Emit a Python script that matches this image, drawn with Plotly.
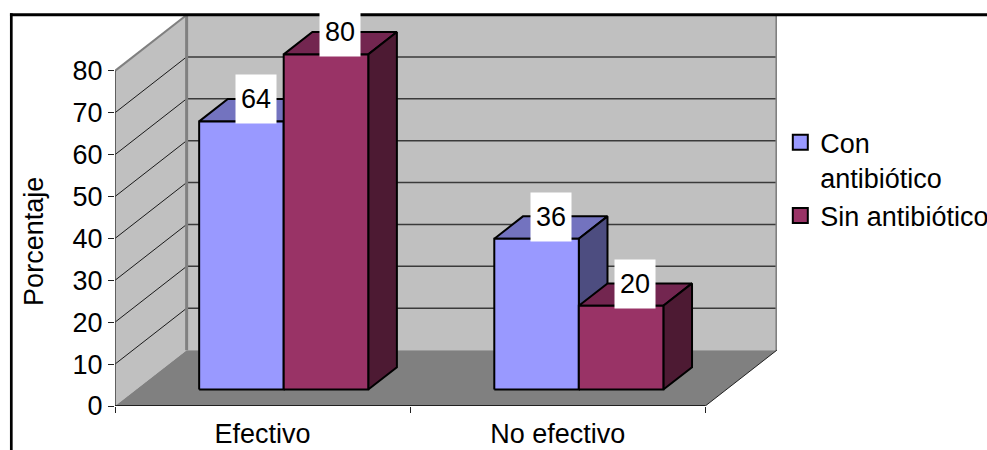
import plotly.graph_objects as go

categories = ["Efectivo", "No efectivo"]
series_names = ["Con<br>antibiótico", "Sin antibiótico"]
con_antibiotico = [64, 36]
sin_antibiotico = [80, 20]
y_ticks = [0, 10, 20, 30, 40, 50, 60, 70, 80]

front_colors = ["#9999FF", "#993366"]
top_colors = ["#7373BF", "#732650"]
side_colors = ["#4D4D80", "#4D1A33"]
FONT = "Liberation Sans, Arial, sans-serif"
FS = 27

# plot frame (pixels)
L, R, T, B = 115.0, 776.7, 14.5, 406.5
PX_PER_CAT = 295.0
PX_PER_UNIT = 4.2
DEPTH_X = 71.6 / PX_PER_CAT   # category units for whole depth
DEPTH_Y = 56.0 / PX_PER_UNIT  # value units for whole depth
x_max = (R - L) / PX_PER_CAT
y_max = (B - T) / PX_PER_UNIT

BAR_W = 84.5 / PX_PER_CAT
Z0, Z1 = 0.295, 0.695


def pr(x, y, z):
    return x + z * DEPTH_X, y + z * DEPTH_Y


def poly(points, fill, line_color="black", width=2.0):
    pts = [pr(*p) for p in points]
    pts.append(pts[0])
    return go.Scatter(
        x=[p[0] for p in pts], y=[p[1] for p in pts], mode="lines", fill="toself",
        fillcolor=fill, line=dict(color=line_color, width=width), hoverinfo="skip",
        showlegend=False,
    )


def seg(a, b, color, width):
    ax, ay = pr(*a)
    bx, by = pr(*b)
    return go.Scatter(x=[ax, bx], y=[ay, by], mode="lines", hoverinfo="skip", showlegend=False,
                      line=dict(color=color, width=width), cliponaxis=False)


fig = go.Figure()
top = y_ticks[-1]
right = len(categories)

# walls and floor
fig.add_trace(poly([(0, 0, 1), (right, 0, 1), (right, top, 1), (0, top, 1)], "#C0C0C0", "rgba(0,0,0,0)", 0))
fig.add_trace(poly([(0, 0, 0), (0, 0, 1), (0, top, 1), (0, top, 0)], "#C0C0C0", "rgba(0,0,0,0)", 0))
fig.add_trace(poly([(0, 0, 0), (0, 0, 1), (right, 0, 1), (right, 0, 0)], "#808080", "rgba(0,0,0,0)", 0))

for v in y_ticks[1:-1]:
    fig.add_trace(seg((0, v, 1), (right, v, 1), "#3A3A3A", 1.5))
    fig.add_trace(seg((0, v, 0), (0, v, 1), "#1A1A1A", 1))
fig.add_trace(seg((0, top, 0), (0, top, 1), "#808080", 2))
fig.add_trace(seg((0, 0, 1), (0, top, 1), "#808080", 3))
fig.add_trace(seg((right, 0, 1), (right, top, 1), "#808080", 3))
fig.add_trace(seg((right, 0, 0), (right, 0, 1), "#222222", 1))
fig.add_trace(seg((0, 0, 0), (0, top, 0), "#404040", 1.5))
fig.add_trace(seg((0, 0, 0), (right, 0, 0), "black", 1.5))

# bars, painted back-to-front
annotations = []
for c in range(len(categories)):
    start = c + (1 - 2 * BAR_W) / 2
    for s, values in enumerate([con_antibiotico, sin_antibiotico]):
        v = values[c]
        x0, x1 = start + s * BAR_W, start + (s + 1) * BAR_W
        fig.add_trace(poly([(x0, v, Z0), (x1, v, Z0), (x1, v, Z1), (x0, v, Z1)], top_colors[s]))
        fig.add_trace(poly([(x1, 0, Z0), (x1, v, Z0), (x1, v, Z1), (x1, 0, Z1)], side_colors[s]))
        fig.add_trace(poly([(x0, 0, Z0), (x1, 0, Z0), (x1, v, Z0), (x0, v, Z0)], front_colors[s]))
        lx, ly = pr((x0 + x1) / 2, v, (Z0 + Z1) / 2)
        annotations.append(dict(
            x=lx, y=ly, xref="x", yref="y", text=str(v), showarrow=False,
            xanchor="center", yanchor="middle", yshift=11, width=38, height=46,
            bgcolor="white", font=dict(family=FONT, size=FS, color="black"),
        ))

# legend entries
for s, nm in enumerate(series_names):
    fig.add_trace(go.Scatter(
        x=[None], y=[None], mode="markers", name=nm, showlegend=True,
        marker=dict(symbol="square", size=15, color=front_colors[s], line=dict(color="black", width=2)),
    ))

W, H = 987, 450
pw, ph = R - L, B - T


def px(v):
    return (v - L) / pw


def py(v):
    return (B - v) / ph


# outer chart border (top and left only are in frame)
shapes = [
    dict(type="rect", xref="paper", yref="paper", x0=px(10), x1=px(990), y0=py(15.8), y1=py(12.8),
         fillcolor="black", line=dict(width=0), layer="above"),
    dict(type="rect", xref="paper", yref="paper", x0=px(10), x1=px(12.7), y0=py(453), y1=py(12.8),
         fillcolor="black", line=dict(width=0), layer="above"),
]

annotations.append(dict(
    x=px(34), y=py(241), xref="paper", yref="paper", text="Porcentaje", textangle=-90,
    xanchor="center", yanchor="middle",
    showarrow=False, font=dict(family=FONT, size=FS, color="black"),
))

fig.update_layout(
    width=W, height=H,
    margin=dict(l=L, r=W - R, t=T, b=H - B, pad=0, autoexpand=False),
    paper_bgcolor="white", plot_bgcolor="rgba(0,0,0,0)",
    font=dict(family=FONT, size=FS, color="black"),
    showlegend=True,
    legend=dict(
        x=px(789), y=py(118), xanchor="left", yanchor="top", bgcolor="rgba(0,0,0,0)",
        font=dict(family=FONT, size=FS, color="black"), tracegroupgap=0, indentation=-9,
        valign="top", itemclick=False, itemdoubleclick=False,
    ),
    xaxis=dict(
        range=[0, x_max], showgrid=False, zeroline=False, showline=False,
        tickmode="array", tickvals=[i + 0.5 for i in range(len(categories))], ticktext=categories,
        ticks="", tickfont=dict(family=FONT, size=FS), ticklabelstandoff=9,
        minor=dict(tickmode="array", tickvals=list(range(len(categories) + 1)), ticks="outside",
                   ticklen=6, tickwidth=1, tickcolor="#222222", showgrid=False),
    ),
    yaxis=dict(
        range=[0, y_max], showgrid=False, zeroline=False, showline=False,
        tickmode="array", tickvals=y_ticks, ticks="outside", ticklen=6, tickwidth=1, tickcolor="#222222",
        tickfont=dict(family=FONT, size=FS),
    ),
    shapes=shapes,
    annotations=annotations,
    hovermode=False,
)

fig.write_html("out.html", config={"displayModeBar": False},
               post_script="document.body.style.margin='0';document.documentElement.style.overflow='hidden';")
